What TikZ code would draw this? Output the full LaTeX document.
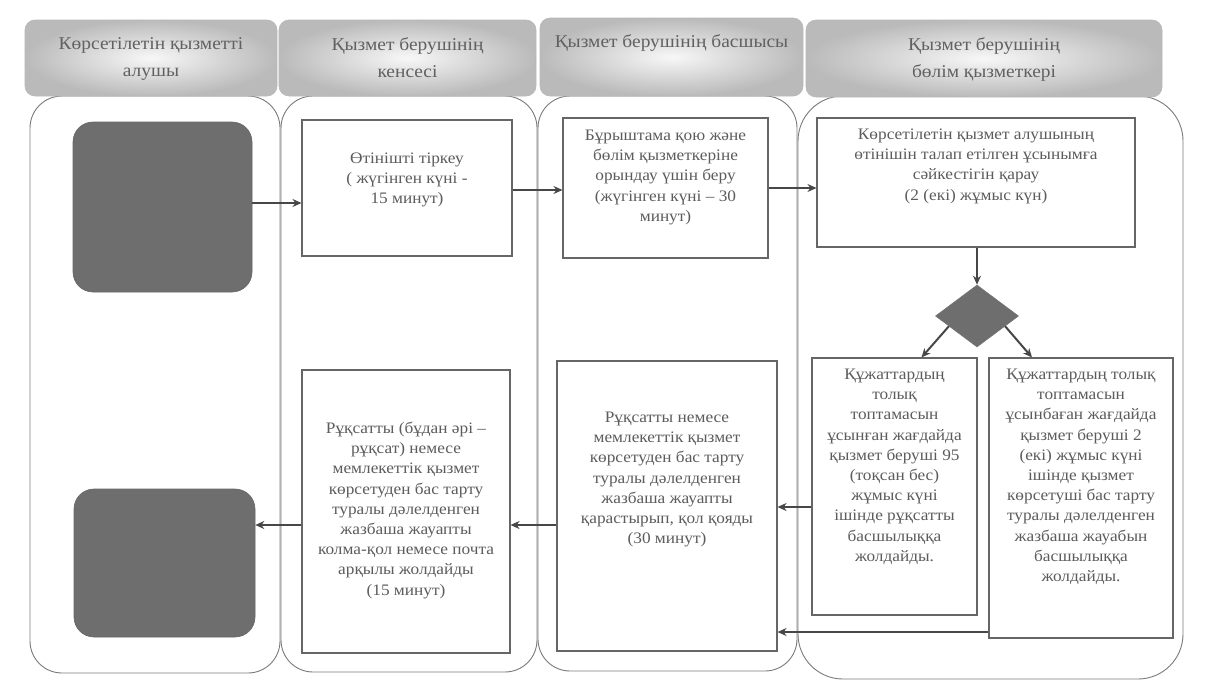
\documentclass[tikz,border=0pt]{standalone}
\usepackage{fontspec}
\setmainfont{Liberation Serif}[FakeStretch=1.08]
\usetikzlibrary{arrows.meta,shapes.geometric}
\definecolor{txtc}{HTML}{5C5C5C}
\definecolor{linec}{HTML}{666666}
\definecolor{lanec}{HTML}{7A7A7A}
\definecolor{arrc}{HTML}{474747}
\definecolor{darkc}{HTML}{6E6E6E}
\newcommand\bxt[4]{\parbox[c][#2][t]{#1}{\centering\vspace*{#3}#4\par}}
\begin{document}
\begin{tikzpicture}[x=1pt,y=-1pt,
  lane/.style={draw=lanec, line width=0.9pt, rounded corners=32pt},
  hdr/.style={draw=black!28, line width=0.6pt, rounded corners=10pt, inner color=white!97!black, outer color=black!27, inner sep=0pt, font=\fontsize{18}{27}\selectfont, text=black!62},
  box/.style={draw=linec, line width=1.1pt, inner sep=0pt, font=\fontsize{16}{20.2}\selectfont, text=txtc},
  dark/.style={fill=darkc, draw=black!60, line width=0.6pt, rounded corners=20pt, inner sep=0pt},
  arr/.style={draw=arrc, line width=2pt, -{Stealth[length=9pt,width=8pt]}},
]
\useasboundingbox (0,0) rectangle (1217,688);
\fill[white] (0,0) rectangle (1217,688);
% lanes
\draw[lane] (30,96) rectangle (280,673);
\draw[lane] (281,96) rectangle (537,672);
\draw[lane] (538,96) rectangle (797,671);
\draw[lane, rounded corners=45pt] (798,96) rectangle (1183,679);
% headers
\node[hdr] (h1) at (151,58) {\bxt{252pt}{76pt}{18pt}{Көрсетілетін қызметті\\алушы}};
\node[hdr] (h2) at (407.5,58) {\bxt{257pt}{76pt}{18pt}{Қызмет берушінің\\кенсесі}};
\node[hdr] (h3) at (671.5,57) {\bxt{263pt}{78pt}{17pt}{Қызмет берушінің басшысы}};
\node[hdr] (h4) at (984,58.5) {\bxt{356pt}{77pt}{18pt}{Қызмет берушінің\\бөлім қызметкері}};
% receiver boxes
\node[dark, minimum width=179pt, minimum height=170pt] (d1) at (162.5,207) {};
\node[dark, minimum width=181pt, minimum height=148pt] (d2) at (164.5,563) {};
% process boxes
\node[box] (A) at (407,188) {\bxt{210pt}{136pt}{33pt}{Өтінішті тіркеу\\( жүгінген күні -\\15 минут)}};
\node[box] (B) at (665.5,188) {\bxt{205pt}{140pt}{12pt}{Бұрыштама қою және\\бөлім қызметкеріне\\орындау үшін беру\\(жүгінген күні – 30\\минут)}};
\node[box] (C) at (976,182.5) {\bxt{318pt}{129pt}{11pt}{Көрсетілетін қызмет алушының\\өтінішін талап етілген ұсынымға\\сәйкестігін қарау\\(2 (екі) жұмыс күн)}};
\node[diamond, fill=darkc, draw=black!55, line width=0.6pt, minimum width=83pt, minimum height=62pt, inner sep=0pt] (Q) at (977,316) {};
\node[box] (D) at (894.5,486.5) {\bxt{165pt}{257pt}{11pt}{Құжаттардың\\толық\\топтамасын\\ұсынған жағдайда\\қызмет беруші 95\\(тоқсан бес)\\жұмыс күні\\ішінде рұқсатты\\басшылыққа\\жолдайды.}};
\node[box] (E) at (1081,498) {\bxt{184pt}{280pt}{11pt}{Құжаттардың толық\\топтамасын\\ұсынбаған жағдайда\\қызмет беруші 2\\(екі) жұмыс күні\\ішінде қызмет\\көрсетуші бас тарту\\туралы дәлелденген\\жазбаша жауабын\\басшылыққа\\жолдайды.}};
\node[box] (F) at (667,506) {\bxt{220pt}{290pt}{51pt}{Рұқсатты немесе\\мемлекеттік қызмет\\көрсетуден бас тарту\\туралы дәлелденген\\жазбаша жауапты\\қарастырып, қол қояды\\(30 минут)}};
\node[box] (G) at (406,511.5) {\bxt{208pt}{283pt}{52pt}{Рұқсатты (бұдан әрі –\\рұқсат) немесе\\мемлекеттік қызмет\\көрсетуден бас тарту\\туралы дәлелденген\\жазбаша жауапты\\колма-қол немесе почта\\арқылы жолдайды\\(15 минут)}};
% connectors
\draw[arr] (d1.east |- 0,203) -- (A.west |- 0,203);
\draw[arr] (A.east |- 0,190) -- (B.west |- 0,190);
\draw[arr] (B.east |- 0,188) -- (C.west |- 0,188);
\draw[arr] (C.south -| Q.north) -- (Q.north);
\draw[arr] (Q.200) -- ([xshift=27pt]D.north);
\draw[arr] (Q.-20) -- ([xshift=-49pt]E.north);
\draw[arr] (D.west |- 0,507) -- (F.east |- 0,507);
\draw[arr] (E.west |- 0,632) -- (F.east |- 0,632);
\draw[arr] (F.west |- 0,525) -- (G.east |- 0,525);
\draw[arr] (G.west |- 0,525) -- (d2.east |- 0,525);
\end{tikzpicture}
\end{document}
